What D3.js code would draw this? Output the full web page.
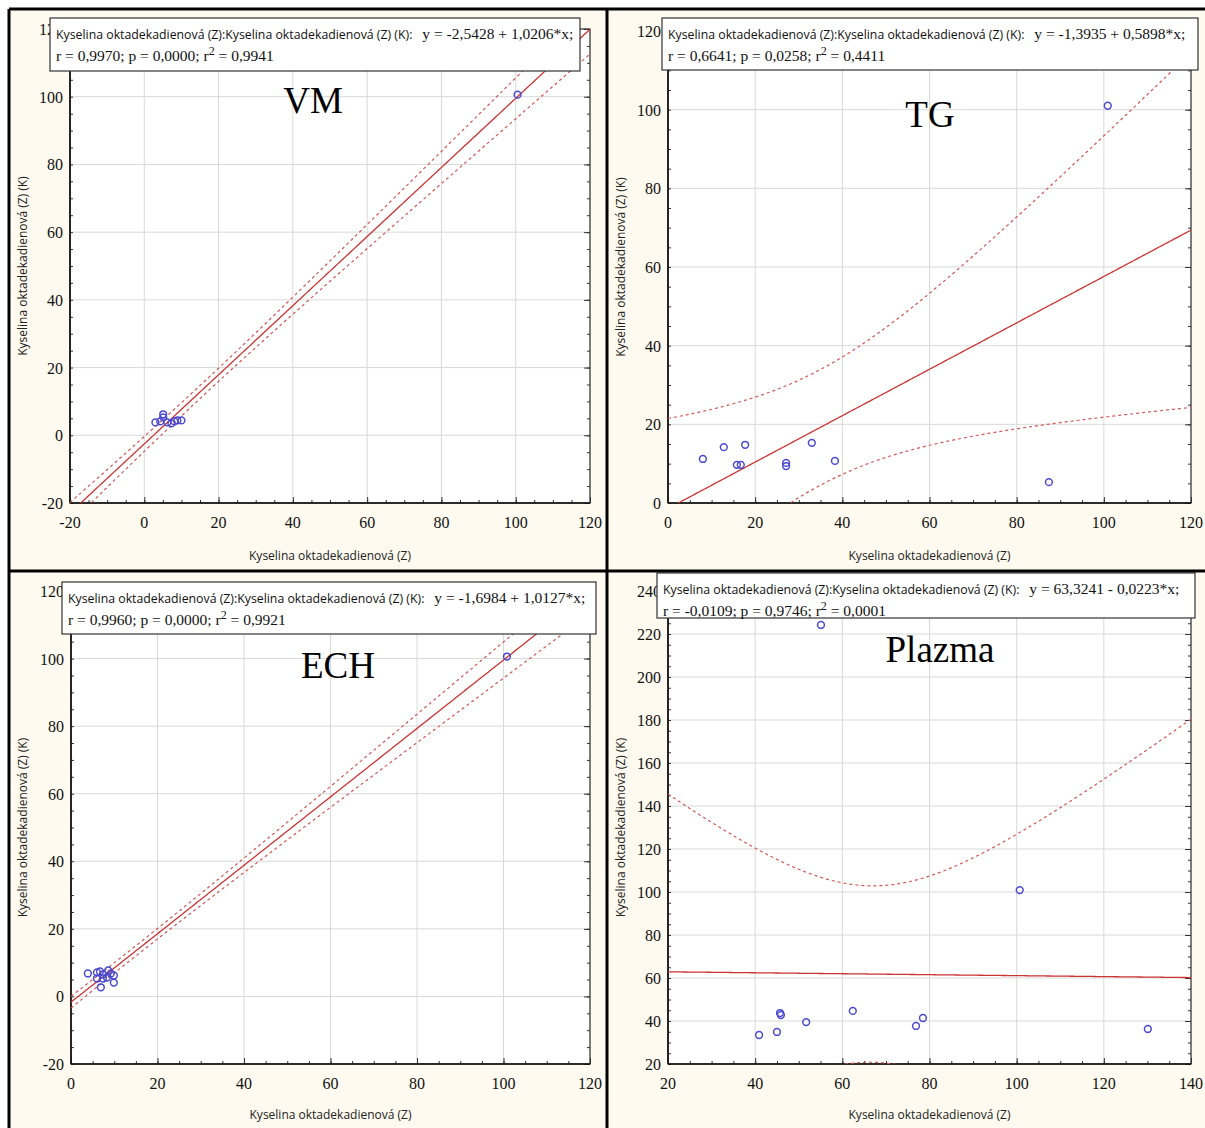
<!DOCTYPE html>
<html><head><meta charset="utf-8">
<script src="https://cdn.jsdelivr.net/npm/d3@7"></script>
<style>body{margin:0;background:#fff}svg{display:block}</style>
</head><body>
<script>
// ---------- DATA ----------
const panelNames = ["VM", "TG", "ECH", "Plazma"];
const xTitle = "Kyselina oktadekadienová (Z)";
const yTitle = "Kyselina oktadekadienová (Z) (K)";
const statLabel = "Kyselina oktadekadienová (Z):Kyselina oktadekadienová (Z) (K):";

const vmX = [3.0, 4.3, 5.1, 5.1, 6.2, 7.3, 8.1, 8.9, 10.0, 100.5];
const vmY = [3.8, 4.1, 6.2, 5.3, 3.8, 3.5, 4.1, 4.4, 4.4, 100.6];
const tgX = [8.0, 12.8, 17.7, 15.8, 16.7, 27.1, 27.1, 33.0, 38.3, 87.4, 100.9];
const tgY = [11.2, 14.2, 14.8, 9.7, 9.7, 10.2, 9.4, 15.3, 10.7, 5.3, 101.0];
const echX = [3.9, 6.0, 6.7, 6.0, 7.4, 7.4, 8.3, 8.6, 9.2, 9.9, 9.9, 6.9, 100.8];
const echY = [6.8, 7.1, 7.4, 5.3, 6.5, 5.3, 5.6, 7.7, 6.8, 6.2, 4.1, 2.7, 100.6];
const plX = [40.9, 45.0, 45.7, 45.9, 51.7, 62.4, 76.9, 78.5, 130.1, 55.1, 100.7];
const plY = [33.5, 34.9, 43.7, 42.8, 39.5, 44.7, 37.7, 41.4, 36.3, 224.2, 100.9];

const intercepts = [-2.5428, -1.3935, -1.6984, 63.3241];
const slopes = [1.0206, 0.5898, 1.0127, -0.0223];
const eqTexts = ["y = -2,5428 + 1,0206*x;", "y = -1,3935 + 0,5898*x;", "y = -1,6984 + 1,0127*x;", "y = 63,3241 - 0,0223*x;"];
const statTexts = [["r = 0,9970; p = 0,0000; r", " = 0,9941"], ["r = 0,6641; p = 0,0258; r", " = 0,4411"],
                   ["r = 0,9960; p = 0,0000; r", " = 0,9921"], ["r = -0,0109; p = 0,9746; r", " = 0,0001"]];

const xDomains = [[-20, 120], [0, 120], [0, 120], [20, 140]];
const yDomains = [[-20, 120], [0, 120], [-20, 120], [20, 240]];
const xTickVals = [[-20, 0, 20, 40, 60, 80, 100, 120], [0, 20, 40, 60, 80, 100, 120], [0, 20, 40, 60, 80, 100, 120], [20, 40, 60, 80, 100, 120, 140]];
const yTickVals = [[-20, 0, 20, 40, 60, 80, 100, 120], [0, 20, 40, 60, 80, 100, 120], [-20, 0, 20, 40, 60, 80, 100, 120], [20, 40, 60, 80, 100, 120, 140, 160, 180, 200, 220, 240]];

// ---------- LAYOUT ----------
const layouts = [
  {x0: 70, x1: 590, y0: 29, y1: 503, box: [50, 18, 530, 53], lab: [313, 113], yT: 27, xT: 560},
  {x0: 668, x1: 1191, y0: 31, y1: 503, box: [662, 18, 536, 52], lab: [930, 127], yT: 625, xT: 560},
  {x0: 71, x1: 590, y0: 591, y1: 1064, box: [62, 582, 534, 52], lab: [338, 678], yT: 27, xT: 1119},
  {x0: 668, x1: 1191, y0: 591, y1: 1064, box: [657, 573, 538, 45], lab: [940, 662], yT: 625, xT: 1119}
];
const datasets = [[vmX, vmY], [tgX, tgY], [echX, echY], [plX, plY]];
const tTable = {8: 2.306, 9: 2.262, 10: 2.228, 11: 2.201};

const svg = d3.select("body").append("svg").attr("width", 1205).attr("height", 1128);
svg.append("rect").attr("width", 1205).attr("height", 1128).attr("fill", "#ffffff");
[[9, 9, 597, 562], [607, 9, 598, 562], [9, 571, 597, 557], [607, 571, 598, 557]].forEach(r =>
  svg.append("rect").attr("x", r[0]).attr("y", r[1]).attr("width", r[2]).attr("height", r[3]).attr("fill", "#fefaef"));

const serif = "'Liberation Serif','Times New Roman',serif";
const sans = "'Open Sans','DejaVu Sans',sans-serif";
const defs = svg.append("defs");

layouts.forEach((L, i) => {
  const [xs, ys] = datasets[i];
  const x = d3.scaleLinear().domain(xDomains[i]).range([L.x0, L.x1]);
  const y = d3.scaleLinear().domain(yDomains[i]).range([L.y1, L.y0]);
  const g = svg.append("g");
  defs.append("clipPath").attr("id", "clip" + i).append("rect")
    .attr("x", L.x0).attr("y", L.y0).attr("width", L.x1 - L.x0).attr("height", L.y1 - L.y0);
  g.append("rect").attr("x", L.x0).attr("y", L.y0).attr("width", L.x1 - L.x0).attr("height", L.y1 - L.y0).attr("fill", "#fff");
  g.selectAll(".gx").data(xTickVals[i]).join("line").attr("x1", d => x(d)).attr("x2", d => x(d))
    .attr("y1", L.y0).attr("y2", L.y1).attr("stroke", "#d9d9d9").attr("stroke-width", 1);
  g.selectAll(".gy").data(yTickVals[i]).join("line").attr("y1", d => y(d)).attr("y2", d => y(d))
    .attr("x1", L.x0).attr("x2", L.x1).attr("stroke", "#d9d9d9").attr("stroke-width", 1);

  const xs0 = xTickVals[i], ys0 = yTickVals[i];
  const xMinor = d3.range(xs0[0], xs0[xs0.length - 1] + 0.001, (xs0[1] - xs0[0]) / 4);
  const yMinor = d3.range(ys0[0], ys0[ys0.length - 1] + 0.001, (ys0[1] - ys0[0]) / 4);
  const axB = g.append("g").attr("transform", `translate(0,${L.y1})`)
    .call(d3.axisTop(x).tickValues(xMinor).tickSize(3).tickFormat(""));
  const axL = g.append("g").attr("transform", `translate(${L.x0},0)`)
    .call(d3.axisRight(y).tickValues(yMinor).tickSize(3).tickFormat(""));
  const axR = g.append("g").attr("transform", `translate(${L.x1},0)`)
    .call(d3.axisLeft(y).tickValues(yMinor).tickSize(3).tickFormat(""));
  [axB, axL, axR].forEach(a => { a.select(".domain").remove(); a.selectAll("line").attr("stroke", "#333"); });
  g.append("g").attr("transform", `translate(0,${L.y1})`)
    .call(d3.axisTop(x).tickValues(xs0).tickSize(6).tickFormat(""))
    .call(a => { a.select(".domain").remove(); a.selectAll("line").attr("stroke", "#333"); });
  g.append("g").attr("transform", `translate(${L.x1},0)`)
    .call(d3.axisLeft(y).tickValues(ys0).tickSize(6).tickFormat(""))
    .call(a => { a.select(".domain").remove(); a.selectAll("line").attr("stroke", "#333"); });
  g.append("rect").attr("x", L.x0).attr("y", L.y0).attr("width", L.x1 - L.x0).attr("height", L.y1 - L.y0)
    .attr("fill", "none").attr("stroke", "#333").attr("stroke-width", 1.2);
  g.append("line").attr("x1", L.x0).attr("x2", L.x0).attr("y1", L.y0).attr("y2", L.y1).attr("stroke", "#111").attr("stroke-width", 1.6);
  g.append("line").attr("x1", L.x0).attr("x2", L.x1).attr("y1", L.y1).attr("y2", L.y1).attr("stroke", "#111").attr("stroke-width", 1.6);

  g.selectAll(".xl").data(xs0).join("text").attr("x", d => x(d)).attr("y", L.y1 + 25)
    .attr("text-anchor", "middle").attr("font-family", serif).attr("font-size", 16).attr("fill", "#111").text(d => d);
  g.selectAll(".yl").data(ys0).join("text").attr("x", L.x0 - 7).attr("y", d => y(d) + 6)
    .attr("text-anchor", "end").attr("font-family", serif).attr("font-size", 16).attr("fill", "#111").text(d => d);

  g.append("text").attr("x", (L.x0 + L.x1) / 2).attr("y", L.xT).attr("text-anchor", "middle")
    .attr("font-family", sans).attr("font-size", 12).attr("fill", "#222").text(xTitle);
  g.append("text").attr("transform", `translate(${L.yT},${(L.y0 + L.y1) / 2}) rotate(-90)`)
    .attr("text-anchor", "middle").attr("font-family", sans).attr("font-size", 12).attr("fill", "#222").text(yTitle);

  const a = intercepts[i], b = slopes[i], n = xs.length;
  const xbar = d3.mean(xs);
  const Sxx = d3.sum(xs, v => (v - xbar) ** 2);
  const s = Math.sqrt(d3.sum(xs.map((v, k) => (ys[k] - (a + b * v)) ** 2)) / (n - 2));
  const t = tTable[n - 2];
  const grid = d3.range(0, 201).map(k => xDomains[i][0] + (xDomains[i][1] - xDomains[i][0]) * k / 200);
  const half = v => t * s * Math.sqrt(1 / n + (v - xbar) ** 2 / Sxx);
  const cg = g.append("g").attr("clip-path", `url(#clip${i})`);
  const ln = d3.line().x(d => x(d[0])).y(d => y(d[1]));
  cg.append("path").attr("d", ln(grid.map(v => [v, a + b * v + half(v)]))).attr("fill", "none")
    .attr("stroke", "#d05858").attr("stroke-width", 1.2).attr("stroke-dasharray", "3,3");
  cg.append("path").attr("d", ln(grid.map(v => [v, a + b * v - half(v)]))).attr("fill", "none")
    .attr("stroke", "#d05858").attr("stroke-width", 1.2).attr("stroke-dasharray", "3,3");
  cg.append("path").attr("d", ln(grid.map(v => [v, a + b * v]))).attr("fill", "none")
    .attr("stroke", "#cc3333").attr("stroke-width", 1.3);
  cg.selectAll("circle").data(xs.map((v, k) => [v, ys[k]])).join("circle")
    .attr("cx", d => x(d[0])).attr("cy", d => y(d[1])).attr("r", 3.4)
    .attr("fill", "none").attr("stroke", "#4a4ad0").attr("stroke-width", 1.5);

  g.append("text").attr("x", L.lab[0]).attr("y", L.lab[1]).attr("text-anchor", "middle")
    .attr("font-family", serif).attr("font-size", 37).attr("fill", "#000").text(panelNames[i]);

  const [bx, by, bw, bh] = L.box;
  g.append("rect").attr("x", bx).attr("y", by).attr("width", bw).attr("height", bh)
    .attr("fill", "#fff").attr("stroke", "#333").attr("stroke-width", 1.2);
  const t1 = g.append("text").attr("x", bx + 6).attr("y", by + 21).attr("fill", "#111");
  t1.append("tspan").attr("font-family", sans).attr("font-size", 12.3).text(statLabel);
  t1.append("tspan").attr("dx", 10).attr("font-family", serif).attr("font-size", 15.5).text(eqTexts[i]);
  const t2 = g.append("text").attr("x", bx + 6).attr("y", by + 43).attr("fill", "#111")
    .attr("font-family", serif).attr("font-size", 15.5);
  t2.append("tspan").text(statTexts[i][0]);
  t2.append("tspan").attr("dy", -6).attr("font-size", 12).text("2");
  t2.append("tspan").attr("dy", 6).text(statTexts[i][1]);
});

const fr = svg.append("g").attr("stroke", "#000").attr("stroke-width", 3);
fr.append("line").attr("x1", 9).attr("x2", 1205).attr("y1", 9).attr("y2", 9);
fr.append("line").attr("x1", 9).attr("x2", 9).attr("y1", 9).attr("y2", 1128);
fr.append("line").attr("x1", 607).attr("x2", 607).attr("y1", 9).attr("y2", 1128);
fr.append("line").attr("x1", 9).attr("x2", 1205).attr("y1", 571).attr("y2", 571);
</script>
</body></html>
